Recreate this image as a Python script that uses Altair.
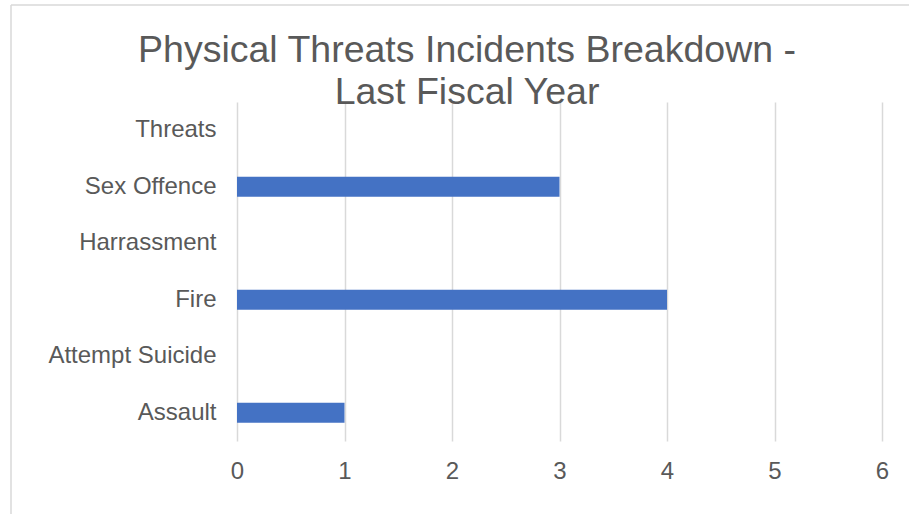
import altair as alt
import pandas as pd

categories = ["Threats", "Sex Offence", "Harrassment", "Fire", "Attempt Suicide", "Assault"]
values = [0, 3, 0, 4, 0, 1]
x_ticks = [0, 1, 2, 3, 4, 5, 6]

df = pd.DataFrame({"category": categories, "value": values})
FONT = "Liberation Sans"
GRAY = "#595959"

bars = alt.Chart(df).mark_bar(color="#4472C4").encode(
    x=alt.X("value:Q", scale=alt.Scale(domain=[0, 6], nice=False),
            axis=alt.Axis(values=x_ticks, title=None, grid=True, gridColor="#d9d9d9",
                          gridWidth=1.5, domain=False, ticks=False, labelFont=FONT,
                          labelFontSize=24, labelColor=GRAY, labelPadding=18, format="d",
                          labelFlush=False)),
    y=alt.Y("category:N", sort=categories,
            scale=alt.Scale(paddingInner=0.65, paddingOuter=0.325),
            axis=alt.Axis(title=None, domain=False, ticks=False, grid=False, labelFont=FONT,
                          labelFontSize=24, labelColor=GRAY, labelPadding=21)),
)

border_df = pd.DataFrame({"k": [0]})
left_border = alt.Chart(border_df).mark_rule(color="#d9d9d9", strokeWidth=1.5).encode(
    x=alt.value(-226), y=alt.value(-97), y2=alt.value(430))
top_border = alt.Chart(border_df).mark_rule(color="#d9d9d9", strokeWidth=1.5).encode(
    x=alt.value(-226), x2=alt.value(700), y=alt.value(-97))

chart = alt.layer(left_border, top_border, bars).properties(
    width=645, height=339,
    title=alt.TitleParams(["Physical Threats Incidents Breakdown -", "Last Fiscal Year"],
                          font=FONT, fontSize=37.5, fontWeight="normal", color=GRAY,
                          anchor="middle", frame="bounds", lineHeight=42, offset=-107,
                          dx=-7),
    padding={"left": 237, "top": 102, "right": 27, "bottom": 73},
    autosize=alt.AutoSizeParams(type="none"),
).configure_view(stroke=None)

chart.save("out.html", embed_options={"renderer": "svg", "actions": False})
